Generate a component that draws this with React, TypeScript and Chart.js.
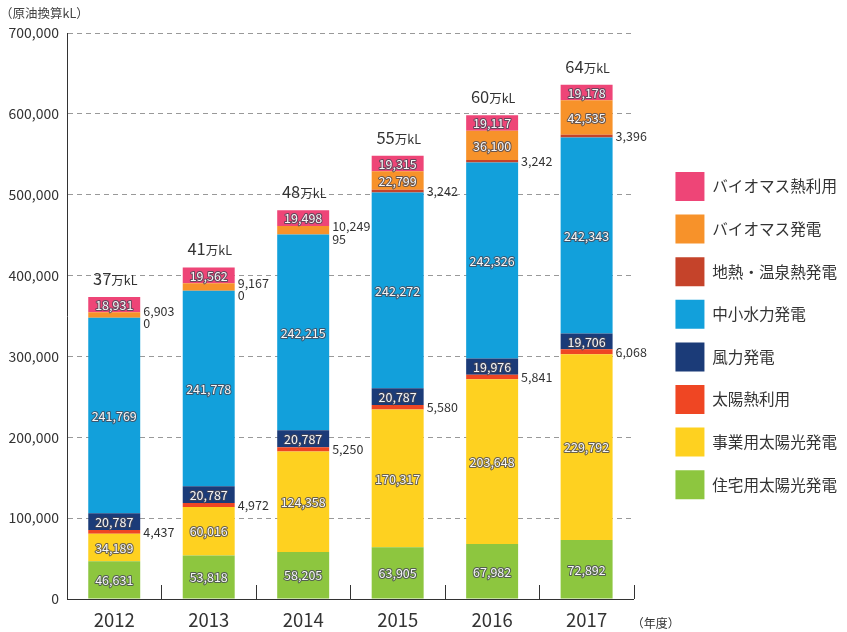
import React, { useEffect, useRef } from "react";
import { Chart, registerables } from "chart.js";

Chart.register(...registerables);

// ---------- data ----------
const years = ["2012", "2013", "2014", "2015", "2016", "2017"];
const residentialSolar = [46631, 53818, 58205, 63905, 67982, 72892];
const commercialSolar = [34189, 60016, 124358, 170317, 203648, 229792];
const solarHeat = [4437, 4972, 5250, 5580, 5841, 6068];
const wind = [20787, 20787, 20787, 20787, 19976, 19706];
const smallHydro = [241769, 241778, 242215, 242272, 242326, 242343];
const geothermal = [0, 0, 95, 3242, 3242, 3396];
const biomassPower = [6903, 9167, 10249, 22799, 36100, 42535];
const biomassHeat = [18931, 19562, 19498, 19315, 19117, 19178];
const totalLabels = ["37", "41", "48", "55", "60", "64"];
const totalUnit = "万kL";
const yMin = 0;
const yMax = 700000;
const yStep = 100000;
const yAxisTitle = "（原油換算kL）";
const xAxisUnit = "（年度）";

const seriesNames = [
  "住宅用太陽光発電",
  "事業用太陽光発電",
  "太陽熱利用",
  "風力発電",
  "中小水力発電",
  "地熱・温泉熱発電",
  "バイオマス発電",
  "バイオマス熱利用",
];
const seriesKeys = ["resSolar", "comSolar", "solarHeat", "wind", "hydro", "geo", "bioPower", "bioHeat"];
const seriesValues = [
  residentialSolar,
  commercialSolar,
  solarHeat,
  wind,
  smallHydro,
  geothermal,
  biomassPower,
  biomassHeat,
];
const seriesColors = [
  "#8dc63f",
  "#fed120",
  "#ef4623",
  "#1b3b78",
  "#12a0db",
  "#c5432a",
  "#f7922a",
  "#ee4577",
];

const FONT = "'Noto Sans CJK JP', 'Noto Sans', sans-serif";
const TEXT = "#333333";

const labelPlugin = {
  id: "segmentLabels",
  afterDatasetsDraw(chart: any) {
    const { ctx, chartArea } = chart;
    const xs = chart.scales.x;
    ctx.save();

    // inward tick marks at category boundaries
    const step = xs.getPixelForValue(1) - xs.getPixelForValue(0);
    ctx.strokeStyle = "#333";
    ctx.lineWidth = 1;
    for (let i = 0; i < years.length; i++) {
      const bx = Math.round(xs.getPixelForValue(i) + step / 2) + 0.5;
      ctx.beginPath();
      ctx.moveTo(bx, chartArea.bottom);
      ctx.lineTo(bx, chartArea.bottom - 14);
      ctx.stroke();
    }

    const ds = chart.data.datasets;
    const metas = ds.map((_: any, i: number) => chart.getDatasetMeta(i));
    const idx = (k: string) => ds.findIndex((d: any) => d.key === k);
    const bioPowerIdx = idx("bioPower");
    const geoIdx = idx("geo");

    ctx.font = `12.5px ${FONT}`;
    ctx.textBaseline = "middle";
    ctx.lineJoin = "round";

    for (let d = 0; d < metas.length; d++) {
      metas[d].data.forEach((el: any, j: number) => {
        const { x, y, base, width } = el.getProps(["x", "y", "base", "width"], true);
        const h = Math.abs(base - y);
        const v = ds[d].data[j] as number;
        const txt = v.toLocaleString("en-US");
        const cy = (y + base) / 2;
        if (h >= 12) {
          ctx.textAlign = "center";
          ctx.strokeStyle = "rgba(70,70,85,0.8)";
          ctx.lineWidth = 2;
          ctx.strokeText(txt, x, cy + 0.5);
          ctx.fillStyle = "#f6f6f6";
          ctx.fillText(txt, x, cy + 0.5);
        } else {
          let ly = cy;
          if (d === bioPowerIdx) ly = cy - 4;
          if (d === geoIdx) {
            const bp = metas[bioPowerIdx].data[j].getProps(["y", "base"], true);
            if (Math.abs(bp.base - bp.y) < 12) ly = y + 5;
          }
          ctx.textAlign = "left";
          ctx.fillStyle = TEXT;
          ctx.fillText(txt, x + width / 2 + 3, ly);
        }
      });
    }

    // totals above bars
    const topMeta = metas[metas.length - 1];
    topMeta.data.forEach((el: any, j: number) => {
      const { x, y } = el.getProps(["x", "y"], true);
      const num = totalLabels[j];
      ctx.textBaseline = "alphabetic";
      ctx.font = `16.5px ${FONT}`;
      const w1 = ctx.measureText(num).width;
      ctx.font = `12.5px ${FONT}`;
      const w2 = ctx.measureText(totalUnit).width;
      const start = x - (w1 + w2) / 2 + 1;
      const by = y - 12;
      ctx.fillStyle = TEXT;
      ctx.textAlign = "left";
      ctx.font = `16.5px ${FONT}`;
      ctx.fillText(num, start, by);
      ctx.font = `12.5px ${FONT}`;
      ctx.fillText(totalUnit, start + w1, by);
    });

    // x axis unit
    ctx.font = `12px ${FONT}`;
    ctx.textAlign = "left";
    ctx.textBaseline = "middle";
    ctx.fillStyle = TEXT;
    ctx.fillText(xAxisUnit, chartArea.right - 2, 623);

    ctx.restore();
  },
};

export default function App() {
  const canvasRef = useRef<HTMLCanvasElement | null>(null);

  useEffect(() => {
    if (!canvasRef.current) return;
    Chart.defaults.font.family = FONT;
    const chart = new Chart(canvasRef.current, {
      type: "bar",
      data: {
        labels: years,
        datasets: seriesNames.map((name, i) => ({
          key: seriesKeys[i],
          label: name,
          data: seriesValues[i],
          backgroundColor: seriesColors[i],
          borderWidth: 0,
          categoryPercentage: 1,
          barPercentage: 0.55,
        })) as any,
      },
      options: {
        responsive: false,
        animation: false,
        layout: { padding: 0 },
        plugins: {
          title: {
            display: true,
            text: yAxisTitle,
            align: "start",
            color: "#444",
            font: { size: 12.5, family: FONT, weight: "normal" },
            padding: { top: 6, bottom: 12 },
          },
          legend: {
            position: "right",
            align: "start",
            reverse: true,
            maxWidth: 220,
            title: {
              display: true,
              text: " ",
              font: { size: 10, lineHeight: 1 },
              padding: { top: 0, bottom: 148.4 },
            },
            labels: {
              boxWidth: 29,
              boxHeight: 29,
              padding: 13.6,
              color: TEXT,
              font: { size: 15.6, family: FONT },
            },
          },
          tooltip: { enabled: false },
        },
        scales: {
          x: {
            stacked: true,
            grid: { display: false, drawTicks: false },
            border: { display: true, color: "#333", width: 1 },
            ticks: { color: TEXT, font: { size: 18.5 }, padding: 10, maxRotation: 0 },
            afterFit: (s: any) => {
              s.height = 33;
            },
          },
          y: {
            stacked: true,
            min: yMin,
            max: yMax,
            ticks: {
              stepSize: yStep,
              color: TEXT,
              font: { size: 14 },
              padding: 8,
              callback: (v: any) => Number(v).toLocaleString("en-US"),
            },
            grid: { color: "#999", drawTicks: false, lineWidth: 1 },
            border: { display: true, color: "#333", width: 1, dash: [5, 4] },
            afterFit: (s: any) => {
              s.width = 67;
            },
          },
          yR: {
            position: "right",
            display: true,
            grid: { display: false },
            border: { display: false },
            ticks: { display: false },
            afterFit: (s: any) => {
              s.width = 28;
            },
          },
        },
      } as any,
      plugins: [labelPlugin],
    });
    return () => chart.destroy();
  }, []);

  return (
    <div style={{ position: "fixed", left: 0, top: 0, width: 847, height: 632, background: "#fff" }}>
      <canvas ref={canvasRef} width={847} height={632} />
    </div>
  );
}
